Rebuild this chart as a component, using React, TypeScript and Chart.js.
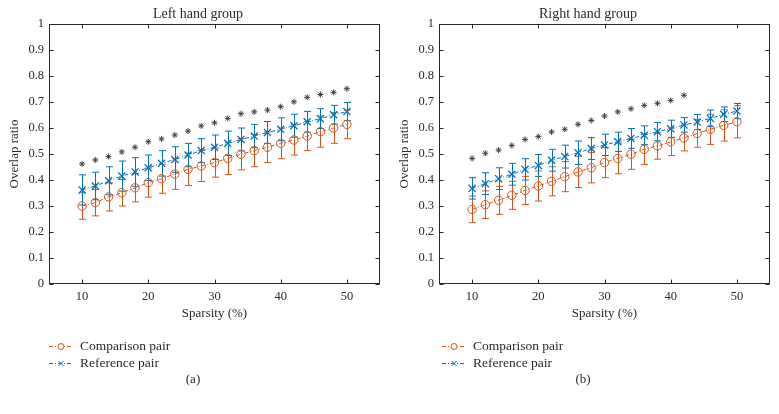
import React, { useEffect, useRef } from "react";
import { Chart, registerables } from "chart.js";

Chart.register(...registerables);

// ---------- data ----------
const sparsity = [10, 12, 14, 16, 18, 20, 22, 24, 26, 28, 30, 32, 34, 36, 38, 40, 42, 44, 46, 48, 50];
const xTicks = [10, 20, 30, 40, 50];
const yTicks = [0, 0.1, 0.2, 0.3, 0.4, 0.5, 0.6, 0.7, 0.8, 0.9, 1];

const leftComparisonMean = [0.300, 0.313, 0.335, 0.351, 0.370, 0.390, 0.405, 0.423, 0.441, 0.454, 0.467, 0.483, 0.499, 0.513, 0.526, 0.541, 0.554, 0.569, 0.586, 0.600, 0.614];
const leftComparisonErr = [0.051, 0.051, 0.054, 0.051, 0.054, 0.056, 0.056, 0.059, 0.062, 0.060, 0.056, 0.062, 0.060, 0.062, 0.059, 0.059, 0.058, 0.056, 0.060, 0.059, 0.055];
const leftReferenceMean = [0.362, 0.377, 0.397, 0.415, 0.431, 0.447, 0.464, 0.479, 0.496, 0.513, 0.526, 0.541, 0.556, 0.569, 0.583, 0.595, 0.609, 0.624, 0.636, 0.651, 0.663];
const leftReferenceErr = [0.058, 0.053, 0.054, 0.058, 0.055, 0.049, 0.049, 0.049, 0.045, 0.046, 0.047, 0.047, 0.044, 0.045, 0.042, 0.044, 0.044, 0.040, 0.038, 0.036, 0.035];
const leftSignificance = [0.462, 0.477, 0.490, 0.508, 0.526, 0.547, 0.558, 0.573, 0.588, 0.608, 0.620, 0.637, 0.655, 0.662, 0.669, 0.682, 0.701, 0.718, 0.729, 0.737, 0.751];

const rightComparisonMean = [0.287, 0.305, 0.322, 0.341, 0.360, 0.377, 0.395, 0.413, 0.431, 0.447, 0.467, 0.483, 0.499, 0.518, 0.531, 0.547, 0.562, 0.579, 0.595, 0.610, 0.624];
const rightComparisonErr = [0.051, 0.053, 0.054, 0.054, 0.054, 0.058, 0.056, 0.058, 0.060, 0.058, 0.058, 0.059, 0.058, 0.058, 0.051, 0.053, 0.050, 0.053, 0.058, 0.060, 0.062];
const rightReferenceMean = [0.368, 0.386, 0.405, 0.422, 0.441, 0.456, 0.476, 0.490, 0.505, 0.521, 0.535, 0.547, 0.560, 0.572, 0.586, 0.597, 0.612, 0.623, 0.637, 0.653, 0.665];
const rightReferenceErr = [0.041, 0.042, 0.042, 0.042, 0.041, 0.042, 0.042, 0.044, 0.045, 0.042, 0.041, 0.037, 0.038, 0.036, 0.035, 0.033, 0.028, 0.029, 0.032, 0.028, 0.029];
const rightSignificance = [0.483, 0.503, 0.515, 0.533, 0.556, 0.567, 0.585, 0.595, 0.614, 0.629, 0.646, 0.662, 0.674, 0.687, 0.695, 0.706, 0.726];

const legendLabels = ["Comparison pair", "Reference pair"];

// ---------- styles ----------
const ORANGE = "#D95319";
const BLUE = "#0072BD";
const STAR = "#404040";
const AXIS = "#262626";
const TEXT = "#2a2a2a";
const FONT = '"Liberation Serif", "DejaVu Serif", serif';

type PanelSpec = {
  title: string;
  tag: string;
  width: number;
  padRight: number;
  legendX: number;
  compMean: number[];
  compErr: number[];
  refMean: number[];
  refErr: number[];
  sig: number[];
};

function decorPlugin(p: PanelSpec) {
  return {
    id: "decor",
    beforeDatasetsDraw(chart: any) {
      const { ctx, scales } = chart;
      const x = scales.x, y = scales.y;
      ctx.save();
      const drawErr = (means: number[], errs: number[], color: string) => {
        ctx.strokeStyle = color;
        ctx.lineWidth = 1;
        ctx.setLineDash([]);
        means.forEach((m, i) => {
          const px = Math.round(x.getPixelForValue(sparsity[i])) + 0.5;
          const top = y.getPixelForValue(m + errs[i]);
          const bot = y.getPixelForValue(m - errs[i]);
          ctx.beginPath();
          ctx.moveTo(px, top);
          ctx.lineTo(px, bot);
          ctx.moveTo(px - 3.5, top);
          ctx.lineTo(px + 3.5, top);
          ctx.moveTo(px - 3.5, bot);
          ctx.lineTo(px + 3.5, bot);
          ctx.stroke();
        });
      };
      drawErr(p.compMean, p.compErr, ORANGE);
      drawErr(p.refMean, p.refErr, BLUE);
      ctx.restore();
    },
    afterDraw(chart: any) {
      const { ctx, chartArea: a, scales } = chart;
      const x = scales.x, y = scales.y;
      ctx.save();
      // box
      ctx.strokeStyle = AXIS;
      ctx.lineWidth = 1;
      ctx.setLineDash([]);
      const L = Math.round(a.left) + 0.5, R = Math.round(a.right) - 0.5;
      const T = Math.round(a.top) + 0.5, B = Math.round(a.bottom) - 0.5;
      ctx.strokeRect(L, T, R - L, B - T);
      // inward ticks
      ctx.beginPath();
      xTicks.forEach((v) => {
        const px = Math.round(x.getPixelForValue(v)) + 0.5;
        ctx.moveTo(px, B); ctx.lineTo(px, B - 4);
        ctx.moveTo(px, T); ctx.lineTo(px, T + 4);
      });
      yTicks.forEach((v) => {
        const py = Math.round(y.getPixelForValue(v)) + 0.5;
        ctx.moveTo(L, py); ctx.lineTo(L + 4, py);
        ctx.moveTo(R, py); ctx.lineTo(R - 4, py);
      });
      ctx.stroke();

      // texts
      ctx.fillStyle = TEXT;
      ctx.textAlign = "center";
      ctx.textBaseline = "middle";
      ctx.font = `14px ${FONT}`;
      ctx.fillText(p.title, 198, 14);
      ctx.font = `13px ${FONT}`;
      ctx.fillText("Sparsity (%)", (a.left + a.right) / 2, 314);
      ctx.fillText(p.tag, 193, 380);
      ctx.save();
      ctx.translate(15, (a.top + a.bottom) / 2);
      ctx.rotate(-Math.PI / 2);
      ctx.fillText("Overlap ratio", 0, 0);
      ctx.restore();

      // legend
      const rows = [
        { label: legendLabels[0], color: ORANGE, marker: "circle", y: 346 },
        { label: legendLabels[1], color: BLUE, marker: "cross", y: 363 },
      ];
      rows.forEach((r) => {
        const x0 = p.legendX;
        ctx.strokeStyle = r.color;
        ctx.lineWidth = 1;
        ctx.setLineDash([4, 2, 1, 2]);
        ctx.beginPath();
        ctx.moveTo(x0, r.y + 0.5);
        ctx.lineTo(x0 + 24, r.y + 0.5);
        ctx.stroke();
        ctx.setLineDash([]);
        const cx = x0 + 12;
        ctx.beginPath();
        if (r.marker === "circle") {
          ctx.fillStyle = "#fff";
          ctx.arc(cx, r.y + 0.5, 3, 0, Math.PI * 2);
          ctx.fill();
          ctx.stroke();
        } else {
          ctx.moveTo(cx - 2.5, r.y - 2); ctx.lineTo(cx + 2.5, r.y + 3);
          ctx.moveTo(cx + 2.5, r.y - 2); ctx.lineTo(cx - 2.5, r.y + 3);
          ctx.stroke();
        }
        ctx.fillStyle = TEXT;
        ctx.textAlign = "left";
        ctx.font = `13.5px ${FONT}`;
        ctx.fillText(r.label, x0 + 31, r.y);
      });
      ctx.restore();
    },
  };
}

function Panel({ spec }: { spec: PanelSpec }) {
  const ref = useRef<HTMLCanvasElement>(null);
  useEffect(() => {
    if (!ref.current) return;
    const p = spec;
    const chart = new Chart(ref.current, {
      type: "line",
      data: {
        datasets: [
          {
            label: "sig",
            data: p.sig.map((v, i) => ({ x: sparsity[i], y: v })),
            showLine: false,
            pointStyle: "star",
            pointRadius: 3,
            pointBorderColor: STAR,
            pointBackgroundColor: STAR,
            pointBorderWidth: 1,
          },
          {
            label: legendLabels[0],
            data: p.compMean.map((v, i) => ({ x: sparsity[i], y: v })),
            borderColor: ORANGE,
            borderWidth: 1,
            borderDash: [4, 2, 1, 2],
            pointStyle: "circle",
            pointRadius: 4.2,
            pointBorderColor: ORANGE,
            pointBackgroundColor: "rgba(255,255,255,0)",
            pointBorderWidth: 1,
            fill: false,
          },
          {
            label: legendLabels[1],
            data: p.refMean.map((v, i) => ({ x: sparsity[i], y: v })),
            borderColor: BLUE,
            borderWidth: 1,
            borderDash: [4, 2, 1, 2],
            pointStyle: "crossRot",
            pointRadius: 5,
            pointBorderColor: BLUE,
            pointBorderWidth: 1.3,
            fill: false,
          },
        ],
      },
      options: {
        responsive: false,
        animation: false,
        devicePixelRatio: 1,
        layout: { padding: { left: 0, right: p.padRight, top: 24, bottom: 0 } },
        plugins: { legend: { display: false }, tooltip: { enabled: false }, title: { display: false } },
        scales: {
          x: {
            type: "linear",
            min: 5,
            max: 55,
            grid: { display: false, drawTicks: false },
            border: { display: false },
            afterBuildTicks: (s: any) => { s.ticks = xTicks.map((v) => ({ value: v })); },
            afterFit: (s: any) => { s.height = 130; },
            ticks: { padding: 5, color: TEXT, font: { family: FONT, size: 12.5 }, maxRotation: 0, autoSkip: false },
          },
          y: {
            type: "linear",
            min: 0,
            max: 1,
            grid: { display: false, drawTicks: false },
            border: { display: false },
            afterBuildTicks: (s: any) => { s.ticks = yTicks.map((v) => ({ value: v })); },
            afterFit: (s: any) => { s.width = 49; },
            ticks: {
              padding: 5,
              color: TEXT,
              font: { family: FONT, size: 12.5 },
              autoSkip: false,
              callback: (v: any) => String(Math.round(Number(v) * 10) / 10),
            },
          },
        },
      },
      plugins: [decorPlugin(p)],
    } as any);
    return () => chart.destroy();
  }, [spec]);
  return <canvas ref={ref} width={spec.width} height={414} style={{ display: "block", width: spec.width, height: 414 }} />;
}

const leftSpec: PanelSpec = {
  title: "Left hand group",
  tag: "(a)",
  width: 390,
  padRight: 10,
  legendX: 49,
  compMean: leftComparisonMean,
  compErr: leftComparisonErr,
  refMean: leftReferenceMean,
  refErr: leftReferenceErr,
  sig: leftSignificance,
};

const rightSpec: PanelSpec = {
  title: "Right hand group",
  tag: "(b)",
  width: 389,
  padRight: 9,
  legendX: 52,
  compMean: rightComparisonMean,
  compErr: rightComparisonErr,
  refMean: rightReferenceMean,
  refErr: rightReferenceErr,
  sig: rightSignificance,
};

export default function App() {
  return (
    <div style={{ position: "absolute", left: 0, top: 0, width: 779, height: 414, background: "#fff", display: "flex" }}>
      <Panel spec={leftSpec} />
      <Panel spec={rightSpec} />
    </div>
  );
}
